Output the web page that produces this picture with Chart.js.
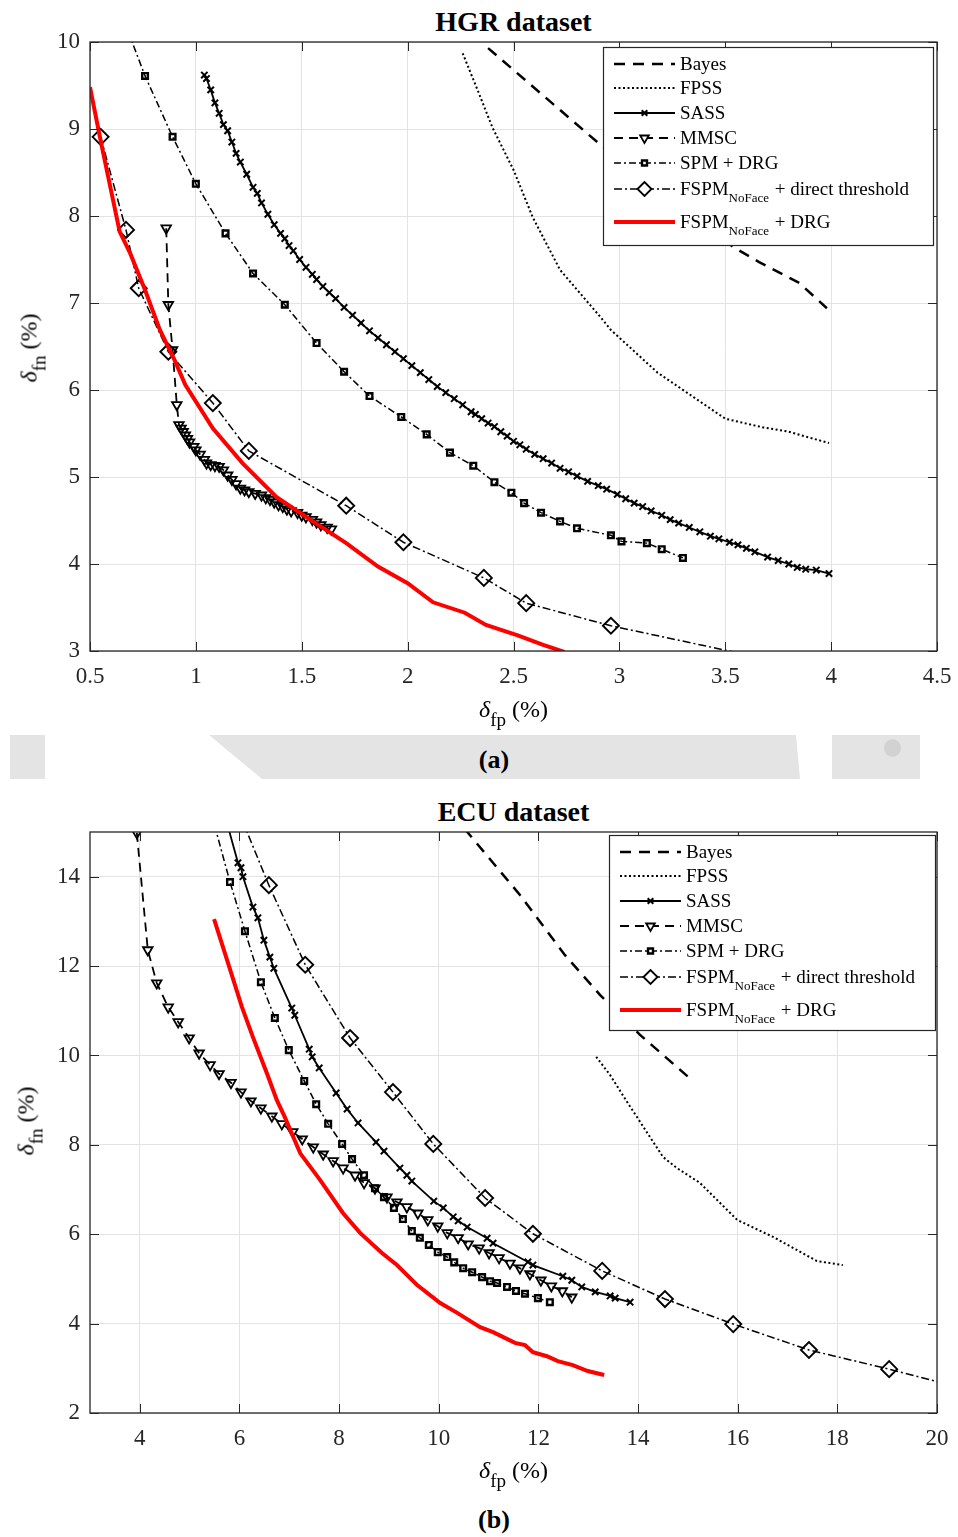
<!DOCTYPE html>
<html>
<head>
<meta charset="utf-8">
<script src="https://cdn.jsdelivr.net/npm/chart.js@4.4.1/dist/chart.umd.min.js"></script>
<style>
  body { margin: 0; background: #fff; }
  #page { position: relative; width: 958px; height: 1537px; overflow: hidden; font-family: 'Liberation Serif', 'Times New Roman', serif; color: #000; }
  canvas { position: absolute; left: 0; }
  .txt { position: absolute; white-space: nowrap; }
  .title { font-weight: bold; font-size: 28px; line-height: 28px; left: 90px; width: 847px; text-align: center; }
  .xlab { font-size: 24px; line-height: 24px; left: 90px; width: 847px; text-align: center; }
  .ylab { font-size: 24px; line-height: 24px; transform: translate(-50%, -50%) rotate(-90deg); }
  .xlab sub, .ylab sub { font-size: 19px; vertical-align: -9px; }
  .cap { font-weight: bold; font-size: 26px; line-height: 26px; transform: translateX(-50%); }
  .band { position: absolute; background: #e4e4e4; }
</style>
</head>
<body>
<div id="page">
  <div class="txt title" style="top:8px">HGR dataset</div>
  <canvas id="hgr" width="958" height="735" style="top:0"></canvas>
  <div class="txt xlab" style="top:697px"><i>δ</i><sub>fp</sub> (%)</div>
  <div class="txt ylab" style="left:34px; top:348px"><i>δ</i><sub>fn</sub> (%)</div>

  <div class="band" style="left:10px; top:735px; width:35px; height:44px"></div>
  <div class="band" style="left:0; top:735px; width:958px; height:44px; clip-path: polygon(209px 0, 796px 0, 800px 44px, 262px 44px)"></div>
  <div class="band" style="left:832px; top:735px; width:88px; height:44px"></div>
  <div class="band" style="left:884px; top:739px; width:17px; height:18px; border-radius:50%; background:#d2d2d2"></div>
  <div class="txt cap" style="left:494px; top:747px">(a)</div>

  <div class="txt title" style="top:798px">ECU dataset</div>
  <canvas id="ecu" width="958" height="710" style="top:790px"></canvas>
  <div class="txt xlab" style="top:1458px"><i>δ</i><sub>fp</sub> (%)</div>
  <div class="txt ylab" style="left:31px; top:1121px"><i>δ</i><sub>fn</sub> (%)</div>
  <div class="txt cap" style="left:494px; top:1507px">(b)</div>
</div>
<script>
// ---- legend names (same for both panels)
const seriesNames = ['Bayes', 'FPSS', 'SASS', 'MMSC', 'SPM + DRG', 'FSPM_NoFace + direct threshold', 'FSPM_NoFace + DRG'];

// ---- (a) HGR dataset, [delta_fp %, delta_fn %]
const hgrXTicks = [0.5, 1, 1.5, 2, 2.5, 3, 3.5, 4, 4.5];
const hgrYTicks = [3, 4, 5, 6, 7, 8, 9, 10];

const hgrBayes = [[2.38, 9.93], [2.91, 8.82], [3.22, 8.22], [3.54, 7.64], [3.66, 7.47], [3.85, 7.23], [3.98, 6.94]];
const hgrFpss = [[2.26, 9.87], [2.33, 9.45], [2.40, 9.02], [2.50, 8.53], [2.59, 7.99], [2.72, 7.38], [2.91, 6.84],
  [2.96, 6.69], [3.18, 6.20], [3.50, 5.67], [3.68, 5.57], [3.80, 5.52], [3.99, 5.39]];
const hgrSass = [[1.04, 9.62], [1.05, 9.58], [1.07, 9.45], [1.09, 9.30], [1.11, 9.18], [1.13, 9.05], [1.15, 8.98],
  [1.17, 8.85], [1.19, 8.72], [1.21, 8.62], [1.24, 8.48], [1.27, 8.33], [1.29, 8.26], [1.31, 8.15], [1.34, 8.02],
  [1.37, 7.90], [1.40, 7.80], [1.42, 7.74], [1.44, 7.66], [1.46, 7.60], [1.49, 7.50], [1.52, 7.41], [1.55, 7.33],
  [1.57, 7.27], [1.60, 7.19], [1.63, 7.12], [1.66, 7.05], [1.70, 6.95], [1.74, 6.86], [1.78, 6.77], [1.82, 6.68],
  [1.86, 6.60], [1.90, 6.52], [1.94, 6.44], [1.98, 6.36], [2.02, 6.28], [2.06, 6.20], [2.10, 6.12], [2.14, 6.04],
  [2.18, 5.97], [2.22, 5.90], [2.26, 5.83], [2.30, 5.75], [2.32, 5.72], [2.35, 5.67], [2.38, 5.62], [2.41, 5.58],
  [2.44, 5.52], [2.47, 5.47], [2.50, 5.41], [2.53, 5.37], [2.56, 5.32], [2.60, 5.26], [2.64, 5.21], [2.68, 5.16],
  [2.72, 5.10], [2.76, 5.06], [2.80, 5.01], [2.85, 4.95], [2.90, 4.90], [2.94, 4.86], [2.99, 4.80], [3.03, 4.75],
  [3.07, 4.70], [3.11, 4.66], [3.15, 4.61], [3.20, 4.56], [3.24, 4.51], [3.28, 4.47], [3.33, 4.42], [3.38, 4.37],
  [3.43, 4.32], [3.47, 4.29], [3.52, 4.25], [3.56, 4.22], [3.60, 4.18], [3.64, 4.14], [3.70, 4.08], [3.75, 4.04],
  [3.80, 4.00], [3.84, 3.96], [3.88, 3.94], [3.93, 3.93], [3.99, 3.89]];
const hgrMmsc = [[0.86, 7.86], [0.87, 6.98], [0.89, 6.46], [0.91, 5.83], [0.92, 5.60], [0.93, 5.56], [0.94, 5.52],
  [0.95, 5.48], [0.96, 5.44], [0.97, 5.40], [0.99, 5.35], [1.00, 5.31], [1.02, 5.26], [1.04, 5.20], [1.05, 5.16],
  [1.07, 5.14], [1.09, 5.13], [1.11, 5.12], [1.13, 5.08], [1.15, 5.02], [1.17, 4.97], [1.19, 4.92], [1.21, 4.87],
  [1.23, 4.85], [1.25, 4.83], [1.28, 4.81], [1.31, 4.79], [1.33, 4.76], [1.35, 4.74], [1.37, 4.71], [1.39, 4.68],
  [1.41, 4.66], [1.43, 4.63], [1.45, 4.61], [1.48, 4.59], [1.50, 4.56], [1.52, 4.54], [1.55, 4.51], [1.57, 4.48],
  [1.59, 4.45], [1.62, 4.42], [1.64, 4.40]];
const hgrSpm = [[0.68, 10.12], [0.76, 9.61], [0.89, 8.91], [1.00, 8.37], [1.14, 7.80], [1.27, 7.34], [1.42, 6.98],
  [1.57, 6.54], [1.70, 6.21], [1.82, 5.93], [1.97, 5.69], [2.09, 5.49], [2.20, 5.28], [2.31, 5.13], [2.41, 4.94],
  [2.49, 4.82], [2.55, 4.70], [2.63, 4.59], [2.72, 4.49], [2.80, 4.41], [2.96, 4.33], [3.01, 4.26], [3.13, 4.24],
  [3.20, 4.17], [3.30, 4.07]];
const hgrFspmDirect = [[0.55, 8.91], [0.67, 7.84], [0.73, 7.17], [0.87, 6.44], [1.08, 5.85], [1.25, 5.30],
  [1.71, 4.67], [1.98, 4.25], [2.36, 3.84], [2.56, 3.55], [2.96, 3.29], [3.75, 2.88]];
const hgrFspmDrg = [[0.50, 9.48], [0.55, 8.87], [0.64, 7.82], [0.69, 7.57], [0.76, 7.15], [0.83, 6.69], [0.90, 6.34],
  [0.95, 6.06], [1.08, 5.56], [1.22, 5.16], [1.38, 4.77], [1.54, 4.51], [1.71, 4.24], [1.86, 3.97], [2.00, 3.78],
  [2.12, 3.56], [2.27, 3.44], [2.37, 3.30], [2.52, 3.18], [2.64, 3.07], [2.74, 2.99]];

// ---- (b) ECU dataset
const ecuXTicks = [4, 6, 8, 10, 12, 14, 16, 18, 20];
const ecuYTicks = [2, 4, 6, 8, 10, 12, 14];

const ecuBayes = [[10.52, 15.07], [11.63, 13.59], [12.53, 12.25], [13.24, 11.35], [14.04, 10.46], [15.10, 9.43]];
const ecuFpss = [[13.16, 9.97], [13.44, 9.56], [13.78, 8.96], [14.50, 7.73], [14.78, 7.48], [15.24, 7.15],
  [15.99, 6.32], [16.71, 5.94], [17.59, 5.40], [18.11, 5.31]];
const ecuSass = [[5.75, 15.2], [5.97, 14.31], [6.03, 14.2], [6.07, 14.0], [6.27, 13.32], [6.37, 13.08], [6.49, 12.58],
  [6.61, 12.2], [6.69, 11.95], [7.05, 11.06], [7.11, 10.9], [7.40, 10.14], [7.46, 9.97], [7.60, 9.72], [7.94, 9.16],
  [8.16, 8.80], [8.38, 8.49], [8.74, 8.06], [8.90, 7.86], [9.22, 7.48], [9.36, 7.32], [9.46, 7.19], [9.90, 6.74],
  [10.09, 6.59], [10.29, 6.39], [10.39, 6.30], [10.57, 6.16], [10.97, 5.91], [11.09, 5.80], [11.79, 5.38],
  [11.89, 5.31], [12.49, 5.06], [12.67, 4.97], [12.87, 4.82], [13.14, 4.71], [13.44, 4.62], [13.54, 4.57], [13.84, 4.48]];
const ecuMmsc = [[3.94, 14.98], [4.16, 12.36], [4.34, 11.62], [4.57, 11.08], [4.77, 10.75], [4.99, 10.39], [5.19, 10.05],
  [5.41, 9.79], [5.59, 9.59], [5.83, 9.39], [6.03, 9.18], [6.23, 8.98], [6.43, 8.82], [6.65, 8.64], [6.85, 8.47],
  [7.07, 8.29], [7.26, 8.13], [7.48, 7.95], [7.68, 7.79], [7.88, 7.64], [8.08, 7.48], [8.32, 7.32], [8.50, 7.15],
  [8.72, 7.03], [8.96, 6.83], [9.16, 6.72], [9.36, 6.61], [9.58, 6.47], [9.78, 6.32], [9.98, 6.18], [10.17, 6.03],
  [10.39, 5.92], [10.59, 5.78], [10.81, 5.69], [11.01, 5.58], [11.21, 5.47], [11.43, 5.35], [11.63, 5.24],
  [11.83, 5.11], [12.05, 4.97], [12.26, 4.84], [12.48, 4.73], [12.67, 4.59]];
const ecuSpm = [[5.50, 15.15], [5.81, 13.88], [6.11, 12.78], [6.43, 11.64], [6.71, 10.84], [6.99, 10.12], [7.30, 9.43],
  [7.54, 8.91], [7.78, 8.47], [8.06, 8.02], [8.26, 7.68], [8.50, 7.32], [8.72, 7.03], [8.90, 6.83], [9.10, 6.59],
  [9.28, 6.34], [9.46, 6.07], [9.62, 5.92], [9.80, 5.76], [9.98, 5.60], [10.17, 5.49], [10.31, 5.37], [10.49, 5.24],
  [10.67, 5.15], [10.87, 5.04], [11.03, 4.95], [11.17, 4.91], [11.37, 4.82], [11.55, 4.73], [11.73, 4.67],
  [11.99, 4.57], [12.23, 4.48]];
const ecuFspmDirect = [[6.06, 15.25], [6.59, 13.81], [7.32, 12.03], [8.22, 10.39], [9.08, 9.18], [9.89, 8.02],
  [10.93, 6.81], [11.89, 6.01], [13.28, 5.18], [14.54, 4.55], [15.91, 3.99], [17.43, 3.41], [19.04, 2.98], [20.3, 2.62]];
const ecuFspmDrg = [[5.49, 13.05], [5.75, 12.14], [6.05, 11.08], [6.27, 10.41], [6.55, 9.60], [6.75, 9.00], [6.91, 8.62],
  [7.22, 7.81], [7.62, 7.21], [8.08, 6.47], [8.42, 6.03], [8.86, 5.58], [9.16, 5.31], [9.56, 4.87], [10.03, 4.46],
  [10.37, 4.24], [10.83, 3.92], [11.09, 3.81], [11.53, 3.57], [11.73, 3.52], [11.89, 3.36], [12.17, 3.27],
  [12.39, 3.16], [12.69, 3.07], [12.99, 2.94], [13.32, 2.85]];

// line / marker look of each series (Matlab-ish)
const seriesStyles = [
  { color: '#000', width: 2.5, dash: [11, 8], point: false },
  { color: '#000', width: 2, dash: [2, 2.5], point: false },
  { color: '#000', width: 1.8, dash: [], point: 'crossRot', radius: 4.5, pbw: 2 },
  { color: '#000', width: 1.8, dash: [9, 6], point: 'triangle', rotation: 180, radius: 5.5, pbw: 1.8 },
  { color: '#000', width: 1.5, dash: [7, 3, 2, 3], point: 'rect', radius: 4, pbw: 2.4 },
  { color: '#000', width: 1.5, dash: [8, 3, 2, 3], point: 'rectRot', radius: 8, pbw: 1.9 },
  { color: '#ff0000', width: 4, dash: [], point: false }
];

const FONT = "'Liberation Serif', 'Times New Roman', serif";
const AXIS = '#262626';

function drawLegend(ctx, box) {
  const rows = [17, 41, 66, 91, 116, 142, 175];
  ctx.save();
  ctx.fillStyle = '#fff';
  ctx.fillRect(box.x, box.y, box.w, box.h);
  ctx.strokeStyle = AXIS;
  ctx.lineWidth = 1.2;
  ctx.strokeRect(box.x + 0.5, box.y + 0.5, box.w, box.h);
  seriesNames.forEach((name, i) => {
    const st = seriesStyles[i];
    const ly = box.y + rows[i];
    ctx.strokeStyle = st.color;
    ctx.lineWidth = st.width;
    ctx.setLineDash(st.dash);
    ctx.beginPath();
    ctx.moveTo(box.x + 11, ly);
    ctx.lineTo(box.x + 72, ly);
    ctx.stroke();
    ctx.setLineDash([]);
    if (st.point) {
      ctx.fillStyle = '#fff';
      ctx.strokeStyle = '#000';
      ctx.lineWidth = st.pbw;
      Chart.helpers.drawPoint(ctx, { pointStyle: st.point, radius: st.point === 'rectRot' ? 7 : st.radius - 0.5,
        rotation: st.rotation || 0, borderWidth: st.pbw }, box.x + 41.5, ly);
    }
    // text, with "NoFace" as a subscript
    ctx.fillStyle = '#000';
    ctx.textBaseline = 'alphabetic';
    let tx = box.x + 77;
    const parts = name.split('_');
    ctx.font = '19px ' + FONT;
    if (parts.length === 1) {
      ctx.fillText(name, tx, ly + 6);
    } else {
      const sub = parts[1].split(' ')[0];
      const rest = parts[1].slice(sub.length);
      ctx.fillText(parts[0], tx, ly + 6);
      tx += ctx.measureText(parts[0]).width;
      ctx.font = '13px ' + FONT;
      ctx.fillText(sub, tx, ly + 13);
      tx += ctx.measureText(sub).width;
      ctx.font = '19px ' + FONT;
      ctx.fillText(rest, tx + 1, ly + 6);
    }
  });
  ctx.restore();
}

const matlabFrame = {
  id: 'matlabFrame',
  afterDatasetsDraw(chart) {
    const { ctx, chartArea: a, scales } = chart;
    ctx.save();
    ctx.strokeStyle = AXIS;
    ctx.lineWidth = 1.3;
    ctx.strokeRect(a.left, a.top, a.right - a.left, a.bottom - a.top);
    ctx.lineWidth = 1;
    ctx.beginPath();
    scales.x.ticks.forEach(t => {
      const px = Math.round(scales.x.getPixelForValue(t.value)) + 0.5;
      ctx.moveTo(px, a.bottom); ctx.lineTo(px, a.bottom - 9);
      ctx.moveTo(px, a.top); ctx.lineTo(px, a.top + 9);
    });
    scales.y.ticks.forEach(t => {
      const py = Math.round(scales.y.getPixelForValue(t.value)) + 0.5;
      ctx.moveTo(a.left, py); ctx.lineTo(a.left + 9, py);
      ctx.moveTo(a.right, py); ctx.lineTo(a.right - 9, py);
    });
    ctx.stroke();
    ctx.restore();
  },
  afterDraw(chart, args, opts) {
    if (opts.legend) drawLegend(chart.ctx, opts.legend);
  }
};

function makePanel(id, series, xr, yr, xTicks, yTicks, xAxisH, legendBox) {
  const datasets = series.map((pts, i) => {
    const st = seriesStyles[i];
    return {
      label: seriesNames[i],
      data: pts.map(p => ({ x: p[0], y: p[1] })),
      showLine: true,
      tension: 0,
      borderColor: st.color,
      borderWidth: st.width,
      borderDash: st.dash,
      pointStyle: st.point || 'circle',
      pointRadius: st.point ? st.radius : 0,
      pointRotation: st.rotation || 0,
      pointBorderWidth: st.pbw || 0,
      pointBorderColor: '#000',
      pointBackgroundColor: 'rgba(0,0,0,0)',
      pointHoverRadius: st.point ? st.radius : 0,
      order: series.length - i
    };
  });
  const tickFont = { family: FONT, size: 23 };
  return new Chart(document.getElementById(id), {
    type: 'scatter',
    data: { datasets },
    options: {
      responsive: false,
      animation: false,
      layout: { padding: { left: 0, right: 21, top: 42, bottom: 0 } },
      plugins: {
        legend: { display: false },
        tooltip: { enabled: false },
        matlabFrame: { legend: legendBox }
      },
      scales: {
        x: {
          type: 'linear', min: xr[0], max: xr[1],
          afterBuildTicks: s => { s.ticks = xTicks.map(v => ({ value: v })); },
          // fixed axis band; labels may overhang the padding
          afterFit: s => { s.height = xAxisH; s.paddingLeft = 0; s.paddingRight = 0; },
          ticks: { autoSkip: false, maxRotation: 0, padding: 12, color: AXIS, font: tickFont, callback: v => String(v) },
          grid: { color: '#e3e3e3', lineWidth: 1, drawTicks: false },
          border: { display: false }
        },
        y: {
          type: 'linear', min: yr[0], max: yr[1],
          afterBuildTicks: s => { s.ticks = yTicks.map(v => ({ value: v })); },
          afterFit: s => { s.width = 90; s.paddingTop = 0; s.paddingBottom = 0; },
          ticks: { autoSkip: false, padding: 10, color: AXIS, font: tickFont, callback: v => String(v) },
          grid: { color: '#e3e3e3', lineWidth: 1, drawTicks: false },
          border: { display: false }
        }
      }
    },
    plugins: [matlabFrame]
  });
}

makePanel('hgr',
  [hgrBayes, hgrFpss, hgrSass, hgrMmsc, hgrSpm, hgrFspmDirect, hgrFspmDrg],
  [0.5, 4.5], [3, 10], hgrXTicks, hgrYTicks, 84,
  { x: 603, y: 47, w: 330, h: 198 });

makePanel('ecu',
  [ecuBayes, ecuFpss, ecuSass, ecuMmsc, ecuSpm, ecuFspmDirect, ecuFspmDrg],
  [3, 20], [2, 15], ecuXTicks, ecuYTicks, 87,
  { x: 609, y: 45, w: 326, h: 195 });
</script>
</body>
</html>
